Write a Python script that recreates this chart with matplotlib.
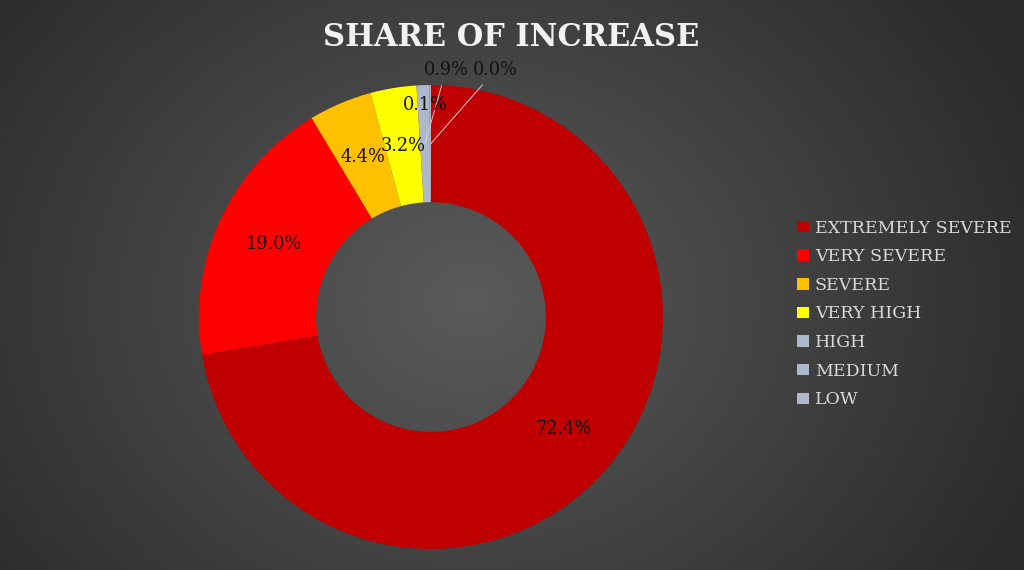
import numpy as np
import matplotlib
matplotlib.use("Agg")
import matplotlib.pyplot as plt
from matplotlib.patches import Rectangle

# ---------------------------------------------------------------------------
# Data
# ---------------------------------------------------------------------------
categories = ["EXTREMELY SEVERE", "VERY SEVERE", "SEVERE", "VERY HIGH",
              "HIGH", "MEDIUM", "LOW"]
shares = [72.4, 19.0, 4.4, 3.2, 0.9, 0.1, 0.0]
colors = ["#C00000", "#FF0000", "#FFC000", "#FFFF00",
          "#ADB9CA", "#ADB9CA", "#ADB9CA"]
title = "SHARE OF INCREASE"

# labels of tiny slices that Excel pushed outside (text position in data units)
outside_labels = {4: (0.065, 1.065), 6: (0.278, 1.065)}
inner_label_r = {5: 0.915}

# ---------------------------------------------------------------------------
# Figure + gradient background
# ---------------------------------------------------------------------------
W, H = 1024, 570
fig = plt.figure(figsize=(W / 100, H / 100), dpi=100)
bg = fig.add_axes([0, 0, 1, 1], zorder=-10)
yy, xx = np.mgrid[0:H, 0:W]
d = np.sqrt(((xx - 470) / 620) ** 2 + ((yy - 300) / 520) ** 2)
d = np.clip(d, 0, 1)
lev = 0.355 - 0.19 * d
bg.imshow(np.dstack([lev, lev, lev]), extent=[0, W, H, 0], aspect="auto")
bg.set_axis_off()

# ---------------------------------------------------------------------------
# Doughnut
# ---------------------------------------------------------------------------
cx, cy, R = 431, 317, 232
ax = fig.add_axes([(cx - R) / W, (H - cy - R) / H, 2 * R / W, 2 * R / H])
ax.set_facecolor("none")
wedges, _ = ax.pie(shares, colors=colors, startangle=90, counterclock=False,
                   radius=1.0, wedgeprops=dict(width=0.505, linewidth=0))
ax.set_xlim(-1, 1)
ax.set_ylim(-1, 1)
ax.set_aspect("equal")
ax.set_axis_off()

lab_font = dict(family="DejaVu Serif", fontsize=12.8, color="#111111")
total = sum(shares)
cum = 0.0
for i, v in enumerate(shares):
    mid = (cum + v / 2) / total
    cum += v
    ang = np.deg2rad(90 - 360 * mid)
    r_mid = 0.748
    px, py = r_mid * np.cos(ang), r_mid * np.sin(ang)
    txt = f"{v:.1f}%"
    if i in outside_labels:
        tx, ty = outside_labels[i]
        ax.annotate(txt, xy=(px, py), xytext=(tx, ty), ha="center", va="center",
                    annotation_clip=False,
                    arrowprops=dict(arrowstyle="-", color="#d0d0d0", lw=0.7,
                                    shrinkA=3, shrinkB=0),
                    **lab_font)
    else:
        r = inner_label_r.get(i, r_mid)
        ax.text(r * np.cos(ang) - (0.02 if i in inner_label_r else 0),
                r * np.sin(ang), txt, ha="center", va="center", **lab_font)

# ---------------------------------------------------------------------------
# Title + legend
# ---------------------------------------------------------------------------
fig.text(0.4995, 1 - 37 / H, title, ha="center", va="center",
         family="DejaVu Serif", fontweight="bold", fontsize=22, color="#f2f2f2")

handles = [Rectangle((0, 0), 1, 1, facecolor=c, edgecolor="none") for c in colors]
leg = fig.legend(handles, categories, loc="center left",
                 bbox_to_anchor=(0.772, 1 - 314 / H), frameon=False,
                 handlelength=0.65, handleheight=0.65, handletextpad=0.35,
                 labelspacing=0.67, borderaxespad=0,
                 prop=dict(family="DejaVu Serif", size=12.5))
for t in leg.get_texts():
    t.set_color("#d9d9d9")

fig.savefig("out.png", dpi=100)
